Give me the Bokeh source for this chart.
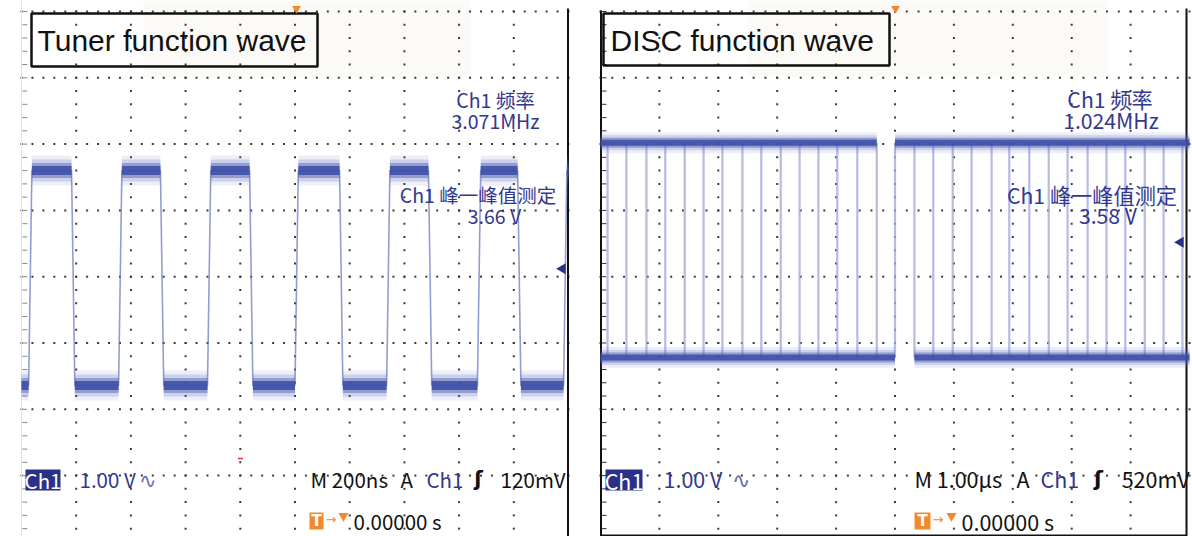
import numpy as np
from bokeh.plotting import figure
from bokeh.models import Range1d
from bokeh.layouts import row
from bokeh.core.properties import value
from bokeh.embed import file_html
from bokeh.resources import INLINE

# ---------------- data ----------------
panel_titles = ["Tuner function wave", "DISC function wave"]
channel_labels = ["Ch1", "Ch1"]
volts_per_div = [1.00, 1.00]
time_per_div = [200.0, 1.0]                 # ns/div (tuner), µs/div (DISC)
time_labels = ["M 200ns", "M 1.00µs"]
trigger_level_v = [0.12, 0.52]
trigger_labels = ["120mV", "520mV"]
trigger_pos_labels = ["0.00000 s", "0.00000 s"]
meas_names = ["Ch1 频率", "Ch1 峰一峰值测定"]
freq_values = ["3.071MHz", "1.024MHz"]
vpp_values = ["3.66 V", "3.58 V"]

# Tuner: square wave, edge times in ns relative to trigger
tuner_rise_ns = [-974, -645, -320, 0, 335, 667, 982]
tuner_fall_ns = [-817, -492, -166, 163, 488, 814]
tuner_high_v = 1.60
tuner_low_v = -1.64

# DISC: persistence display, edge times in µs relative to trigger
disc_edges_us = [-4.88, -4.56, -4.22, -3.90, -3.57, -3.25, -2.93, -2.59, -2.27,
                 -1.94, -1.62, -1.30, -0.98, -0.64, -0.31, 0.00, 0.33, 0.65,
                 0.98, 1.30, 1.64, 1.94, 2.28, 2.61, 2.93, 3.27, 3.59, 3.91,
                 4.24, 4.56, 4.88]
disc_high_start_us = [-5.0, 0.00]
disc_high_end_us = [-0.31, 5.0]
disc_low_start_us = [-5.0, 0.33]
disc_low_end_us = [0.00, 5.0]
disc_high_v = 2.02
disc_low_v = -1.22

# ---------------- styling / layout ----------------
SCOPE_FONT = "Noto Sans CJK SC"
TITLE_FONT = "Liberation Sans"
BLUE_TXT = "#33388f"
TRACE = "#3b4ea6"
EDGE = "#6472bf"
ORANGE = "#f08a2c"

PAGE_H = 536
FIG_TOP = 0
GRID_TOP = 11.0
PX_PER_V = 66.3


def py2v(py):
    return 4.0 - (py - GRID_TOP) / PX_PER_V


layouts = [
    dict(fig_left=0, fig_width=596, x0=21, ppd=54.7,
         beige=(143, 470, 0, 77), title_box=(31, 317, 13, 66), title_xy=(37, 40),
         meas_cx=[495, 495, 477.5, 494], meas_y=[99, 119.5, 194, 214.5], meas_fs="19.5px",
         ch_box=(25, 60, 469, 490), volts_x=79, wave_cx=147.5, tb_x=310, a_x=400,
         ch_x=426, slope_cx=478, trig_right=565, row1_y=478,
         tbox=(309, 323, 512, 529), arrow_x=325, tri_cx=343, pos_x=353, row2_y=520.5,
         bottom_fs="20.5px", trig_arrow_x=562, trigpos_x=296,
         left_black=False, right_border=567.5, bottom_border=None,
         red_mark=(240, 458), band=[30, 22, 15, 9]),
    dict(fig_left=596, fig_width=596, x0=600, ppd=58.9,
         beige=(748, 1107, 0, 76), title_box=(603, 889, 13, 65), title_xy=(610, 39.5),
         meas_cx=[1109.5, 1110.5, 1091.5, 1107.5], meas_y=[98, 119, 193.5, 213.5], meas_fs="21.2px",
         ch_box=(605, 642, 469, 490), volts_x=663, wave_cx=740, tb_x=914, a_x=1016,
         ch_x=1040, slope_cx=1098, trig_right=1189, row1_y=478,
         tbox=(914, 930, 512, 529), arrow_x=932, tri_cx=951, pos_x=961, row2_y=520.5,
         bottom_fs="21.5px", trig_arrow_x=1180, trigpos_x=895,
         left_black=True, right_border=1186, bottom_border=535,
         red_mark=None, band=[21, 15, 10, 6]),
]


def txt(p, x, y, s, color, size, font=SCOPE_FONT, align="left", baseline="middle", style="normal"):
    p.text(x=[x], y=[y], text=[s], text_color=color, text_font=value(font),
           text_font_size=value(size), text_align=align, text_baseline=baseline,
           text_font_style=style)


def bands(p, xs, ys, widths):
    alphas = [0.13, 0.22, 0.45, 0.85]
    colors = ["#6f7cc6", "#5f6dbe", "#4a5cb2", TRACE]
    for w, a, c in zip(widths, alphas, colors):
        p.multi_line(xs=xs, ys=ys, line_color=c, line_width=w, line_alpha=a, line_cap="butt")


def make_panel(i):
    L = layouts[i]
    tdiv = time_per_div[i]
    x0, ppd = L["x0"], L["ppd"]

    def d2t(d):
        return (d - 5.0) * tdiv

    def px2t(px):
        return d2t((px - x0) / ppd)

    p = figure(width=L["fig_width"], height=PAGE_H, output_backend="svg",
               toolbar_location=None, tools="",
               x_range=Range1d(px2t(L["fig_left"]), px2t(L["fig_left"] + L["fig_width"])),
               y_range=Range1d(py2v(FIG_TOP + PAGE_H), py2v(FIG_TOP)),
               x_axis_location=None, y_axis_location=None, min_border=0)
    p.xgrid.visible = False
    p.ygrid.visible = False
    p.outline_line_color = None
    p.background_fill_color = "white"
    p.border_fill_color = "white"

    # faint tinted area at top
    b = L["beige"]
    p.quad(left=[px2t(b[0])], right=[px2t(b[1])], top=[py2v(b[2])], bottom=[py2v(b[3])],
           fill_color="#fcfaf6", line_color=None)

    # dotted graticule
    gx, gy = [], []
    for v in range(-4, 5):
        for d in np.arange(0, 10.001, 0.2):
            gx.append(d2t(d)); gy.append(v)
    for d in range(1, 10):
        for v in np.arange(-4, 4.001, 0.2):
            gx.append(d2t(d)); gy.append(v)
    p.scatter(x=gx, y=gy, marker="square", size=2, fill_color="#3a3a3a", line_color=None)

    # edge ticks and frame lines
    tick_v = list(np.arange(-4, 4.001, 0.2))
    ytop, ybot = py2v(FIG_TOP), py2v(FIG_TOP + PAGE_H)
    if L["left_black"]:
        p.segment(x0=[px2t(600.5)], y0=[py2v(10)], x1=[px2t(600.5)], y1=[ybot],
                  line_color="#111", line_width=2)
        p.scatter(x=[d2t(0.06)] * len(tick_v), y=tick_v, marker="dash", size=5,
                  line_color="#333", line_width=1)
    else:
        p.segment(x0=[d2t(0)], y0=[ytop], x1=[d2t(0)], y1=[ybot], line_color="#e4e4e4", line_width=1)
        p.scatter(x=[d2t(0.06)] * len(tick_v), y=tick_v, marker="dash", size=5,
                  line_color="#888", line_width=1)
    rb = px2t(L["right_border"])
    p.segment(x0=[rb], y0=[py2v(8)], x1=[rb], y1=[ybot], line_color="#111", line_width=2)
    if L["bottom_border"] is not None:
        yb = py2v(L["bottom_border"])
        p.segment(x0=[px2t(600)], y0=[yb], x1=[rb], y1=[yb], line_color="#111", line_width=2)

    # ---------- waveform ----------
    if i == 0:
        edge = 12.0
        t_start, t_end = d2t(0), d2t(10)
        events = sorted([(t, tuner_high_v) for t in tuner_rise_ns] +
                        [(t, tuner_low_v) for t in tuner_fall_ns])
        level = tuner_low_v if events[0][1] == tuner_high_v else tuner_high_v
        xs, ys = [t_start], [level]
        plat_x, plat_y = [], []
        seg = t_start
        for t, new in events:
            xs += [t, min(t + edge, t_end)]
            ys += [level, new]
            plat_x.append([seg, t]); plat_y.append([level, level])
            seg = min(t + edge, t_end)
            level = new
        xs.append(t_end); ys.append(level)
        plat_x.append([seg, t_end]); plat_y.append([level, level])
        p.line(x=xs, y=ys, line_color=EDGE, line_width=1.6, line_alpha=0.7)
        bands(p, plat_x, plat_y, L["band"])
    else:
        n = len(disc_edges_us)
        p.segment(x0=disc_edges_us, y0=[disc_low_v] * n, x1=disc_edges_us, y1=[disc_high_v] * n,
                  line_color="#a3aadc", line_width=2.2, line_alpha=0.8)
        hx = [[a, b] for a, b in zip(disc_high_start_us, disc_high_end_us)]
        hy = [[disc_high_v, disc_high_v] for _ in hx]
        lx = [[a, b] for a, b in zip(disc_low_start_us, disc_low_end_us)]
        ly = [[disc_low_v, disc_low_v] for _ in lx]
        bands(p, hx + lx, hy + ly, L["band"])

    # ---------- title box (transparent: graticule dots show through) ----------
    tb = L["title_box"]
    p.quad(left=[px2t(tb[0])], right=[px2t(tb[1])], top=[py2v(tb[2])], bottom=[py2v(tb[3])],
           fill_color=None, line_color="#111", line_width=2.5)
    txt(p, px2t(L["title_xy"][0]), py2v(L["title_xy"][1]), panel_titles[i], "#111",
        "30px", font=TITLE_FONT, baseline="middle")

    # ---------- measurement readouts ----------
    mtexts = [meas_names[0], freq_values[i], meas_names[1], vpp_values[i]]
    for cx, cy, s in zip(L["meas_cx"], L["meas_y"], mtexts):
        txt(p, px2t(cx), py2v(cy), s, BLUE_TXT, L["meas_fs"], align="center")

    # ---------- bottom status line ----------
    fs = L["bottom_fs"]
    cb = L["ch_box"]
    p.quad(left=[px2t(cb[0])], right=[px2t(cb[1])], top=[py2v(cb[2])], bottom=[py2v(cb[3])],
           fill_color="#2c3188", line_color=None)
    txt(p, px2t((cb[0] + cb[1]) / 2), py2v((cb[2] + cb[3]) / 2), channel_labels[i],
        "white", fs, align="center")
    y1 = py2v(L["row1_y"])
    txt(p, px2t(L["volts_x"]), y1, f"{volts_per_div[i]:.2f} V", BLUE_TXT, fs)
    txt(p, px2t(L["wave_cx"]), y1, "∿", "#6a6fb0", fs, align="center")
    txt(p, px2t(L["tb_x"]), y1, time_labels[i], "#111", fs)
    txt(p, px2t(L["a_x"]), y1, "A", "#111", fs)
    txt(p, px2t(L["ch_x"]), y1, channel_labels[i], BLUE_TXT, fs)
    txt(p, px2t(L["slope_cx"]), y1, "ʃ", "#111", fs, font="DejaVu Sans", align="center",
        style="bold")
    txt(p, px2t(L["trig_right"]), y1, trigger_labels[i], "#111", fs, align="right")

    y2 = py2v(L["row2_y"])
    tq = L["tbox"]
    p.quad(left=[px2t(tq[0])], right=[px2t(tq[1])], top=[py2v(tq[2])], bottom=[py2v(tq[3])],
           fill_color=ORANGE, line_color=None)
    txt(p, px2t((tq[0] + tq[1]) / 2), py2v((tq[2] + tq[3]) / 2), "T", "white", "15px",
        font="DejaVu Sans", align="center", style="bold")
    txt(p, px2t(L["arrow_x"]), py2v(L["row2_y"] - 2), "→", ORANGE, "13px", font="DejaVu Sans")
    p.scatter(x=[px2t(L["tri_cx"])], y=[py2v(L["row2_y"] - 5)], marker="inverted_triangle",
              size=10, fill_color=ORANGE, line_color=None)
    txt(p, px2t(L["pos_x"]), y2, trigger_pos_labels[i], "#111", fs)

    # ---------- markers ----------
    p.scatter(x=[px2t(L["trig_arrow_x"])], y=[trigger_level_v[i]], marker="triangle",
              angle=np.pi / 2, size=11, fill_color="#2c3188", line_color=None)
    p.scatter(x=[px2t(L["trigpos_x"])], y=[py2v(8)], marker="inverted_triangle",
              size=9, fill_color=ORANGE, line_color=None)
    if L["red_mark"] is not None:
        p.scatter(x=[px2t(L["red_mark"][0])], y=[py2v(L["red_mark"][1])], marker="dash",
                  size=5, line_color="#e03030", line_width=1.5)
    return p


p = row(make_panel(0), make_panel(1))
open("out.html", "w").write(file_html(p, INLINE))
